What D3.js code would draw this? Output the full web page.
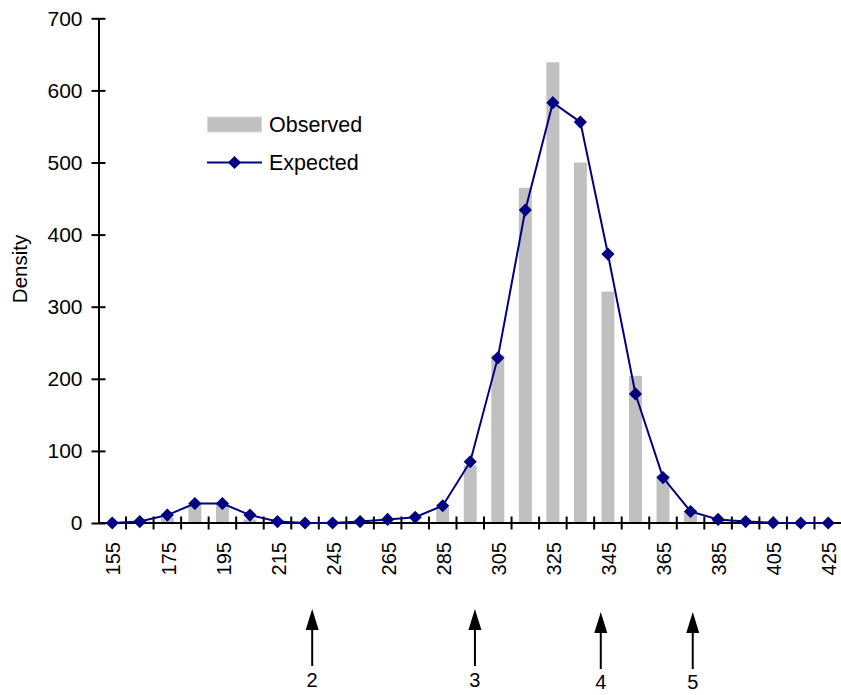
<!DOCTYPE html>
<html>
<head>
<meta charset="utf-8">
<script src="https://cdn.jsdelivr.net/npm/d3@7/dist/d3.min.js"></script>
<style>
  html, body { margin: 0; padding: 0; background: #fff; }
  svg { display: block; font-family: "Liberation Sans", Arial, sans-serif; }
</style>
</head>
<body>
<svg id="chart" width="841" height="695"></svg>
<script>
// Size classes (bin centres); the bin between 215 and 245 is unlabelled on the axis
const categories = [155, 165, 175, 185, 195, 205, 215, 225, 245, 255, 265, 275, 285, 295,
                    305, 315, 325, 335, 345, 355, 365, 375, 385, 395, 405, 415, 425];
const observed = [0, 0, 7, 28, 27, 5, 0, 0, 0, 0, 0, 2, 22, 80,
                  233, 465, 639, 500, 321, 204, 66, 17, 3, 1, 0, 0, 0];
const expected = [0, 2, 11, 27, 27, 11, 2, 0, 0, 2, 5, 8, 24, 85,
                  229, 434, 583, 556, 373, 179, 63, 16, 5, 2, 0.5, 0, 0];
const yTicks = [0, 100, 200, 300, 400, 500, 600, 700];
// Marked positions below the axis, in bin-index units
const markers = [
  { label: "2", at: 7.26 },
  { label: "3", at: 13.17 },
  { label: "4", at: 17.74 },
  { label: "5", at: 21.08 }
];

const svg = d3.select("#chart");
const plotLeft = 98.5, plotRight = 842, plotTop = 18.3, plotBottom = 523;
const navy = "#000080", barGrey = "#c0c0c0";

const x = d3.scaleBand().domain(categories).range([plotLeft, plotRight]).paddingInner(0).paddingOuter(0);
const idx = d3.scaleLinear().domain([0, categories.length]).range([plotLeft, plotRight]);
const y = d3.scaleLinear().domain([0, 700]).range([plotBottom, plotTop]);
const cx = c => x(c) + x.bandwidth() / 2;

// Observed bars
const barW = x.bandwidth() * 0.47;
svg.append("g").selectAll("rect").data(categories).join("rect")
  .attr("x", (c) => cx(c) - barW / 2)
  .attr("width", barW)
  .attr("y", (c, i) => y(observed[i]))
  .attr("height", (c, i) => plotBottom - y(observed[i]))
  .attr("fill", barGrey);

// Y axis
const yAxis = svg.append("g").attr("transform", `translate(${plotLeft},0)`)
  .call(d3.axisLeft(y).tickValues(yTicks).tickSizeInner(7).tickSizeOuter(0).tickPadding(9));
yAxis.select(".domain").attr("stroke", "#000").attr("stroke-width", 2);
yAxis.selectAll(".tick line").attr("x1", 7).attr("x2", -7).attr("stroke-width", 2);
yAxis.selectAll(".tick text").attr("font-size", 21).attr("fill", "#000")
  .attr("font-family", "Liberation Sans, Arial, sans-serif");

// X axis line and boundary ticks
const xg = svg.append("g");
xg.append("line").attr("x1", plotLeft).attr("x2", plotRight).attr("y1", plotBottom).attr("y2", plotBottom)
  .attr("stroke", "#000").attr("stroke-width", 2);
xg.selectAll("line.tk").data(d3.range(1, categories.length + 1)).join("line")
  .attr("class", "tk")
  .attr("x1", d => idx(d)).attr("x2", d => idx(d))
  .attr("y1", plotBottom - 6.5).attr("y2", plotBottom + 6.5)
  .attr("stroke", "#000").attr("stroke-width", 2);
xg.selectAll("text").data(categories.filter((c, i) => i % 2 === 0)).join("text")
  .attr("transform", c => `translate(${cx(c) + 1},${plotBottom + 19}) rotate(-90)`)
  .attr("text-anchor", "end")
  .attr("dy", "0.36em")
  .attr("font-size", 20)
  .text(c => c);

// Expected line with diamond markers
const line = d3.line().x((d, i) => cx(categories[i])).y(d => y(d));
svg.append("path").datum(expected).attr("d", line)
  .attr("fill", "none").attr("stroke", navy).attr("stroke-width", 2);
const diamond = d3.symbol().type(d3.symbolDiamond2).size(110);
svg.append("g").selectAll("path").data(expected).join("path")
  .attr("transform", (d, i) => `translate(${cx(categories[i])},${y(d)})`)
  .attr("d", diamond)
  .attr("fill", navy);

// Y axis title
svg.append("text")
  .attr("transform", `translate(27,269) rotate(-90)`)
  .attr("text-anchor", "middle")
  .attr("font-size", 20.5)
  .text("Density");

// Legend
const lg = svg.append("g");
lg.append("rect").attr("x", 207.5).attr("y", 117).attr("width", 54).attr("height", 15)
  .attr("fill", barGrey).attr("stroke", "#d8d8d8").attr("stroke-width", 1);
lg.append("text").attr("x", 269).attr("y", 132).attr("font-size", 21.5).text("Observed");
lg.append("line").attr("x1", 207).attr("x2", 262).attr("y1", 162.5).attr("y2", 162.5)
  .attr("stroke", navy).attr("stroke-width", 2);
lg.append("path").attr("transform", "translate(234.5,162.5)").attr("d", diamond).attr("fill", navy);
lg.append("text").attr("x", 269).attr("y", 170).attr("font-size", 21.5).text("Expected");

// Upward arrows with labels under the axis
const ag = svg.append("g");
markers.forEach((m, i) => {
  const ax = idx(m.at + 0.5);
  const drop = i >= 2 ? 3 : 0;
  const headTop = 609 + drop, headBase = 630 + drop, tail = 666 + drop;
  ag.append("line").attr("x1", ax).attr("x2", ax).attr("y1", headBase - 1).attr("y2", tail)
    .attr("stroke", "#000").attr("stroke-width", 2);
  ag.append("path")
    .attr("d", `M${ax},${headTop}L${ax + 6.5},${headBase}L${ax - 6.5},${headBase}Z`)
    .attr("fill", "#000");
  ag.append("text").attr("x", ax).attr("y", 687 + drop * 0.7).attr("text-anchor", "middle")
    .attr("font-size", 20).text(m.label);
});
</script>
</body>
</html>
